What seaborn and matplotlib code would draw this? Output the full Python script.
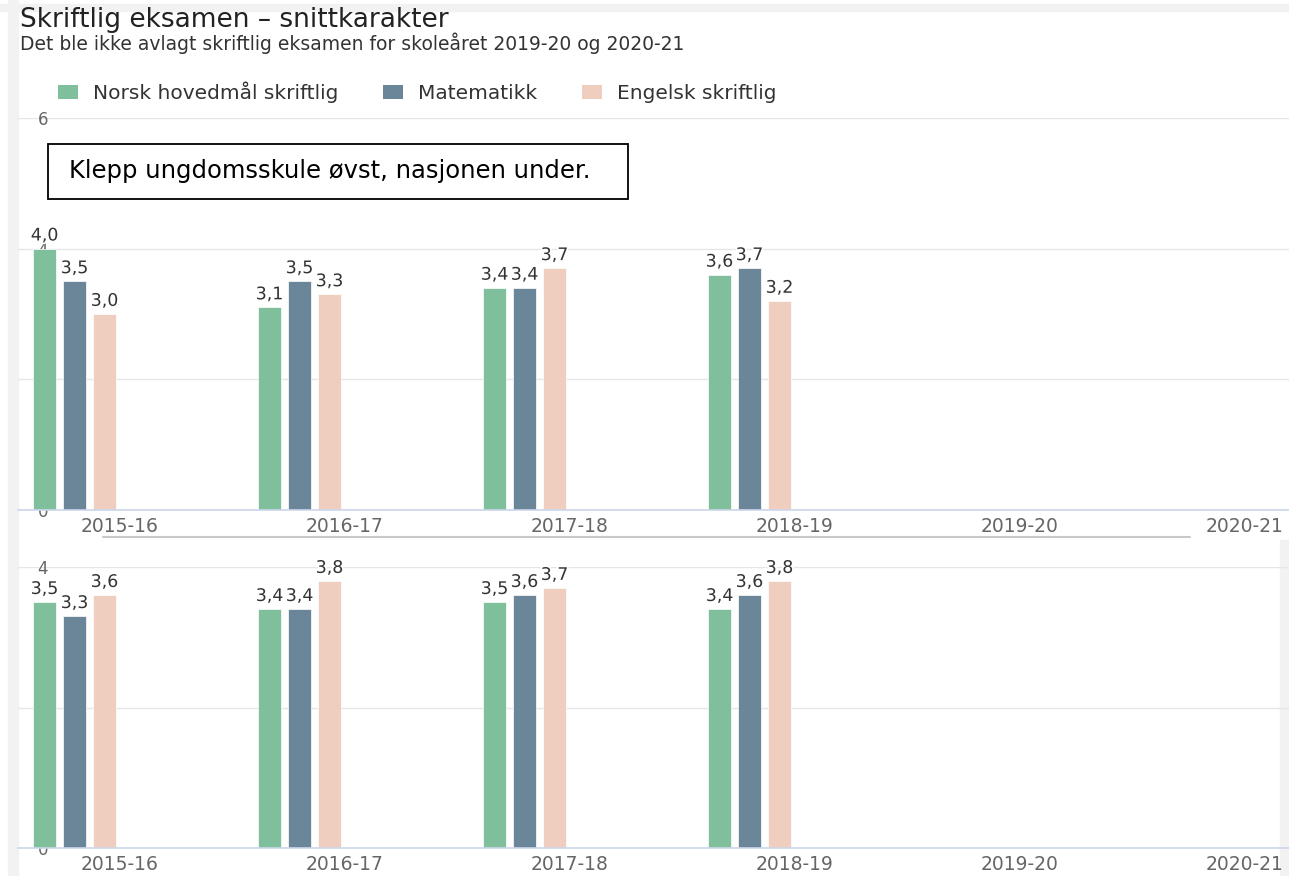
import pandas as pd
import matplotlib.pyplot as plt
import matplotlib.patheffects as pe
from matplotlib.patches import Patch, Rectangle
from matplotlib.lines import Line2D
import seaborn as sns

# skoleår og fag
years = ["2015-16", "2016-17", "2017-18", "2018-19", "2019-20", "2020-21"]
subjects = ["Norsk hovedmål skriftlig", "Matematikk", "Engelsk skriftlig"]
colors = ["#7fbf9b", "#6b8699", "#efcec0"]

# Klepp ungdomsskule (øvst) - ingen eksamen 2019-20 og 2020-21
klepp_norsk = [4.0, 3.1, 3.4, 3.6]
klepp_matte = [3.5, 3.5, 3.4, 3.7]
klepp_engelsk = [3.0, 3.3, 3.7, 3.2]

# nasjonen (under)
nasjon_norsk = [3.5, 3.4, 3.5, 3.4]
nasjon_matte = [3.3, 3.4, 3.6, 3.6]
nasjon_engelsk = [3.6, 3.8, 3.7, 3.8]

# tre tomme serier som holder plass i hver gruppe (som i originalen)
hidden = ["_a", "_b", "_c"]

W, H = 1289, 876


def long_df(norsk, matte, engelsk):
    rows = []
    for vals, subj in zip([norsk, matte, engelsk], subjects):
        for yr, v in zip(years, vals):
            rows.append({"year": yr, "subject": subj, "value": v})
    return pd.DataFrame(rows)


df_top = long_df(klepp_norsk, klepp_matte, klepp_engelsk)
df_bot = long_df(nasjon_norsk, nasjon_matte, nasjon_engelsk)

sns.set_style("white")
plt.rcParams["font.family"] = ["DejaVu Sans"]

fig = plt.figure(figsize=(W / 100, H / 100), dpi=100, facecolor="white")


def box(x0, y0, x1, y1):
    # pixel box (top-left origin) -> figure fractions
    return [x0 / W, 1 - y1 / H, (x1 - x0) / W, (y1 - y0) / H]


# grå kanter fra skjermbildet
fig.add_artist(Rectangle((8 / W, 0), 10 / W, 1, transform=fig.transFigure,
                         color="#f2f2f2", zorder=0))
fig.add_artist(Rectangle((0, 1 - 11 / H), 1, 7 / H, transform=fig.transFigure,
                         color="#f2f2f2", zorder=0))
fig.add_artist(Rectangle((1280 / W, 0), 9 / W, 1 - 540 / H, transform=fig.transFigure,
                         color="#f2f2f2", zorder=0))

ax_top = fig.add_axes(box(18, 118, 1289, 510))
ax_bot = fig.add_axes(box(18, 567, 1289, 848))

palette = dict(zip(subjects + hidden, colors + ["white"] * 3))

for ax, data, ymax, yt in [(ax_top, df_top, 6, [0, 2, 4, 6]),
                           (ax_bot, df_bot, 4, [0, 2, 4])]:
    sns.barplot(data=data, x="year", y="value", hue="subject",
                order=years, hue_order=subjects + hidden, palette=palette,
                saturation=1, width=0.8, gap=0.25, legend=False, ax=ax,
                zorder=3, edgecolor="white", linewidth=0.5)
    ax.set_facecolor("none")
    ax.set_xlim(-0.451, 5.198)
    ax.set_ylim(0, ymax)
    ax.set_yticks(yt)
    ax.set_yticklabels([str(t) for t in yt])
    ax.grid(axis="y", color="#e6e6e6", linewidth=1, zorder=0)
    ax.set_axisbelow(True)
    for s in ["top", "right", "left"]:
        ax.spines[s].set_visible(False)
    ax.spines["bottom"].set_color("#ccd6eb")
    ax.spines["bottom"].set_linewidth(1.2)
    ax.spines["bottom"].set_zorder(4)
    ax.set_xlabel("")
    ax.set_ylabel("")
    ax.tick_params(axis="y", length=0, pad=-21.6, labelsize=12, labelcolor="#666666")
    for lab in ax.get_yticklabels():
        lab.set_zorder(5)
    ax.tick_params(axis="x", which="major", length=0, pad=5, labelsize=13.5,
                   labelcolor="#666666")
    ax.set_xticks([i + 0.5 for i in range(5)], minor=True)
    ax.tick_params(axis="x", which="minor", length=4, width=1.2, color="#ccd6eb")
    for c in ax.containers:
        labs = ax.bar_label(c, fmt=lambda v: f"{v:.1f}".replace(".", ","),
                            padding=3, fontsize=12.5, color="#333333")
        for t in labs:
            t.set_path_effects([pe.withStroke(linewidth=2.5, foreground="white")])
            t.set_zorder(6)

# tittel og undertittel
fig.text(20 / W, 1 - 20 / H, "Skriftlig eksamen – snittkarakter", fontsize=19,
         color="#222222", va="center", ha="left")
fig.text(20 / W, 1 - 43 / H,
         "Det ble ikke avlagt skriftlig eksamen for skoleåret 2019-20 og 2020-21",
         fontsize=13.5, color="#333333", va="center", ha="left")

# forklaring
handles = [Patch(facecolor=col, edgecolor="none") for col in colors]
fig.legend(handles, subjects, loc="center left", bbox_to_anchor=(40 / W, 1 - 92 / H),
           ncol=3, frameon=False, fontsize=14.5, labelcolor="#333333",
           handlelength=1.0, handleheight=0.7, handletextpad=0.75, columnspacing=2.2)

# tekstboks
fig.add_artist(Rectangle((48 / W, 1 - 199 / H), 580 / W, 55 / H, transform=fig.transFigure,
                         facecolor="white", edgecolor="black", linewidth=1.3, zorder=7))
fig.text(69 / W, 1 - 171 / H, "Klepp ungdomsskule øvst, nasjonen under.",
         fontsize=17.5, color="black", va="center", ha="left", zorder=8)

# skillelinje fra skjermbildet
fig.add_artist(Line2D([103 / W, 1190 / W], [1 - 537 / H, 1 - 537 / H],
                      transform=fig.transFigure, color="#c8c8c8", linewidth=1.5))

fig.savefig("out.png", dpi=100, facecolor="white")
